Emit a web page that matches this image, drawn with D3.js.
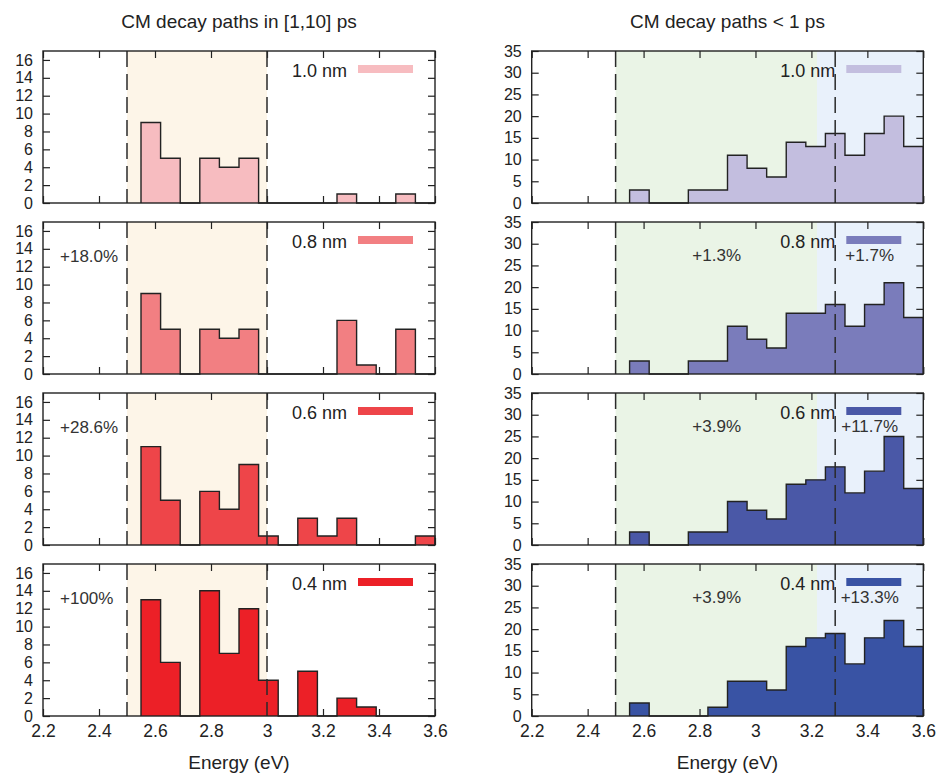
<!DOCTYPE html>
<html>
<head>
<meta charset="utf-8">
<script src="https://cdn.jsdelivr.net/npm/d3@7"></script>
<style>
  body { margin: 0; background: #fff; }
  svg { display: block; font-family: "Liberation Sans", Arial, Helvetica, sans-serif; }
</style>
</head>
<body>
<div id="chart"></div>
<script>
/* CM decay path histograms — two columns, four nanocrystal sizes */
const binStarts = [2.55, 2.62, 2.69, 2.76, 2.83, 2.90, 2.97, 3.04, 3.11, 3.18, 3.25, 3.32, 3.39, 3.46, 3.53];
const binEnd = 3.60;
const sizes = ['1.0 nm', '0.8 nm', '0.6 nm', '0.4 nm'];

// left column: decay paths in [1,10] ps
const slow10 = [9, 5, 0, 5, 4, 5, 0, 0, 0, 0, 1, 0, 0, 1, 0];
const slow08 = [9, 5, 0, 5, 4, 5, 0, 0, 0, 0, 6, 1, 0, 5, 0];
const slow06 = [11, 5, 0, 6, 4, 9, 1, 0, 3, 1, 3, 0, 0, 0, 1];
const slow04 = [13, 6, 0, 14, 7, 12, 4, 0, 5, 0, 2, 1, 0, 0, 0];

// right column: decay paths < 1 ps
const fast10 = [3, 0, 0, 3, 3, 11, 8, 6, 14, 13, 16, 11, 16, 20, 13];
const fast08 = [3, 0, 0, 3, 3, 11, 8, 6, 14, 14, 16, 11, 16, 21, 13];
const fast06 = [3, 0, 0, 3, 3, 10, 8, 6, 14, 15, 18, 12, 17, 25, 13];
const fast04 = [3, 0, 0, 0, 2, 8, 8, 6, 16, 18, 19, 12, 18, 22, 16];

const slowGain = ['', '+18.0%', '+28.6%', '+100%'];
const fastGainLow = ['', '+1.3%', '+3.9%', '+3.9%'];
const fastGainHigh = ['', '+1.7%', '+11.7%', '+13.3%'];

const slowColors = ['#f7bcc0', '#f27f82', '#ee4549', '#ec2027'];
const fastColors = ['#c3bedf', '#7a7cbb', '#4a58a7', '#3953a4'];

const xTicks = [2.2, 2.4, 2.6, 2.8, 3.0, 3.2, 3.4, 3.6];
const xTickLabels = ['2.2', '2.4', '2.6', '2.8', '3', '3.2', '3.4', '3.6'];
const slowYTicks = [0, 2, 4, 6, 8, 10, 12, 14, 16];
const fastYTicks = [0, 5, 10, 15, 20, 25, 30, 35];

const slowBand = [2.5, 3.0];
const slowDash = [2.5, 3.0];
const fastBandA = [2.5, 3.22];
const fastBandB = [3.22, 3.6];
const fastDash = [2.5, 3.285];

const W = 937, H = 774;
const INK = '#222';
const rowTop = i => 51 + i * 171;
const rowH = 152;

const svg = d3.select('#chart').append('svg').attr('width', W).attr('height', H);

const columns = [
  { x0: 43, x1: 435, ymax: 17, yTicks: slowYTicks, series: [slow10, slow08, slow06, slow04],
    colors: slowColors, title: 'CM decay paths in [1,10] ps',
    bands: [{ r: slowBand, c: '#fdf5e8' }], dashes: slowDash },
  { x0: 531.7, x1: 923.3, ymax: 35, yTicks: fastYTicks, series: [fast10, fast08, fast06, fast04],
    colors: fastColors, title: 'CM decay paths < 1 ps',
    bands: [{ r: fastBandA, c: '#eaf4e6' }, { r: fastBandB, c: '#e9f1fb' }], dashes: fastDash }
];

columns.forEach((col, ci) => {
  const x = d3.scaleLinear().domain([2.2, 3.6]).range([col.x0, col.x1]);

  svg.append('text')
    .attr('x', (col.x0 + col.x1) / 2).attr('y', 28)
    .attr('text-anchor', 'middle').attr('font-size', 19).attr('fill', INK)
    .text(col.title);

  col.series.forEach((vals, ri) => {
    const top = rowTop(ri), bot = top + rowH;
    const y = d3.scaleLinear().domain([0, col.ymax]).range([bot, top]);
    const g = svg.append('g');

    col.bands.forEach(b => {
      g.append('rect')
        .attr('x', x(b.r[0])).attr('y', top)
        .attr('width', x(b.r[1]) - x(b.r[0])).attr('height', rowH)
        .attr('fill', b.c);
    });

    // inward ticks on all four sides
    const lastRow = ri === col.series.length - 1;
    g.append('g').attr('transform', `translate(0,${bot})`)
      .call(d3.axisBottom(x).tickValues(xTicks).tickSize(-7).tickPadding(9)
        .tickFormat((d, i) => lastRow ? xTickLabels[i] : ''))
      .selectAll('text').attr('font-size', 17.5);
    g.append('g').attr('transform', `translate(0,${top})`)
      .call(d3.axisTop(x).tickValues(xTicks).tickSize(-7).tickFormat(''));
    g.append('g').attr('transform', `translate(${col.x0},0)`)
      .call(d3.axisLeft(y).tickValues(col.yTicks).tickSize(-7).tickPadding(10))
      .selectAll('text').attr('font-size', 16);
    g.append('g').attr('transform', `translate(${col.x1},0)`)
      .call(d3.axisRight(y).tickValues(col.yTicks).tickSize(-7).tickFormat(''));
    g.selectAll('.domain').remove();
    g.selectAll('.tick line').attr('stroke', INK).attr('stroke-width', 1.2);
    g.selectAll('.tick text').attr('fill', INK)
      .attr('font-family', '"Liberation Sans", Arial, Helvetica, sans-serif');

    // step histogram
    const pts = [{ x: binStarts[0], v: 0 }]
      .concat(vals.map((v, i) => ({ x: binStarts[i], v })))
      .concat([{ x: binEnd, v: vals[vals.length - 1] }, { x: binEnd, v: 0 }]);
    g.append('path').datum(pts)
      .attr('fill', col.colors[ri])
      .attr('d', d3.area().x(d => x(d.x)).y0(y(0)).y1(d => y(d.v)).curve(d3.curveStepAfter));
    g.append('path').datum(pts)
      .attr('fill', 'none').attr('stroke', INK).attr('stroke-width', 1.4)
      .attr('d', d3.line().x(d => x(d.x)).y(d => y(d.v)).curve(d3.curveStepAfter));

    col.dashes.forEach(e => {
      g.append('line')
        .attr('x1', x(e)).attr('x2', x(e)).attr('y1', top).attr('y2', bot)
        .attr('stroke', '#2a2a2a').attr('stroke-width', 1.5).attr('stroke-dasharray', '16,7');
    });

    g.append('rect')
      .attr('x', col.x0).attr('y', top).attr('width', col.x1 - col.x0).attr('height', rowH)
      .attr('fill', 'none').attr('stroke', INK).attr('stroke-width', 1.4);

    // legend
    g.append('text')
      .attr('x', col.x1 - 88).attr('y', top + 26)
      .attr('text-anchor', 'end').attr('font-size', 18).attr('fill', INK)
      .text(sizes[ri]);
    g.append('rect')
      .attr('x', col.x1 - 77).attr('y', top + 14).attr('width', 55).attr('height', 8)
      .attr('fill', col.colors[ri]);

    // annotations
    if (ci === 0 && slowGain[ri]) {
      g.append('text').attr('x', col.x0 + 17).attr('y', top + 40)
        .attr('font-size', 17).attr('fill', '#333').text(slowGain[ri]);
    }
    if (ci === 1 && fastGainLow[ri]) {
      g.append('text').attr('x', col.x0 + 185).attr('y', top + 39)
        .attr('text-anchor', 'middle').attr('font-size', 17).attr('fill', '#333').text(fastGainLow[ri]);
      g.append('text').attr('x', col.x0 + 338).attr('y', top + 39)
        .attr('text-anchor', 'middle').attr('font-size', 17).attr('fill', '#333').text(fastGainHigh[ri]);
    }
  });

  svg.append('text')
    .attr('x', (col.x0 + col.x1) / 2).attr('y', 769)
    .attr('text-anchor', 'middle').attr('font-size', 19).attr('fill', INK)
    .text('Energy (eV)');
});
</script>
</body>
</html>
